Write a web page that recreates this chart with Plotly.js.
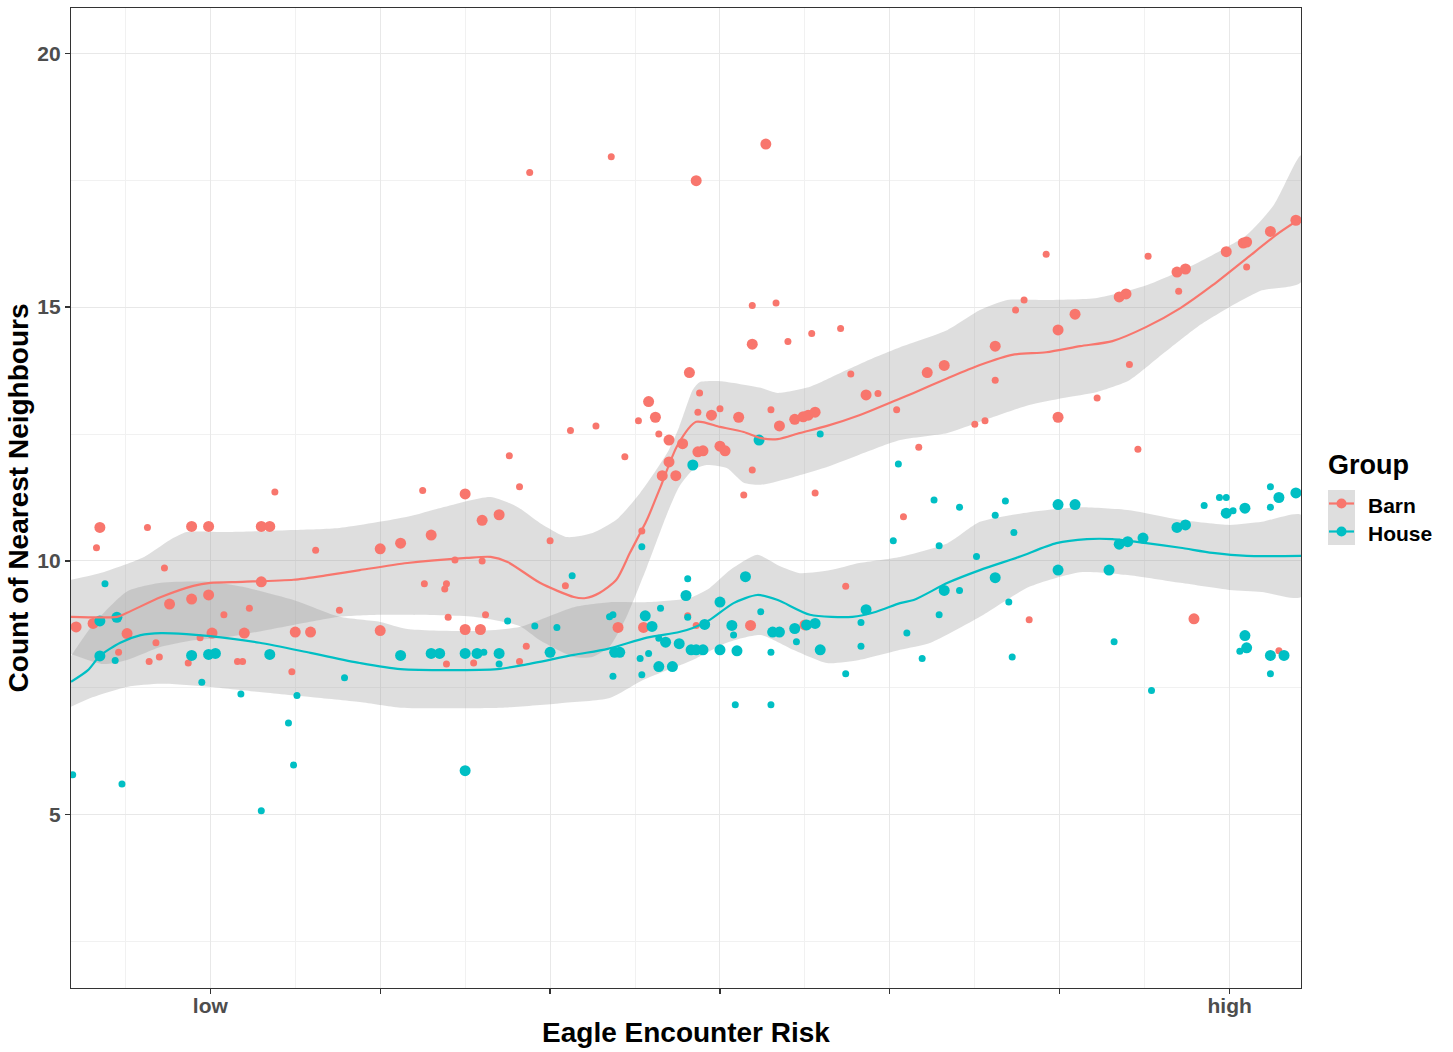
<!DOCTYPE html>
<html>
<head>
<meta charset="utf-8">
<script src="https://cdn.plot.ly/plotly-3.0.1.min.js"></script>
<style>
  html, body { margin: 0; padding: 0; background: #ffffff; }
  #chart { width: 1453px; height: 1052px; }
</style>
</head>
<body>
<div id="chart"></div>
<script>
// ---- Observations: risk score (x), neighbour count (y), weight class (1 = small, 2 = large) ----
const barnX = [-0.79,-0.69,-0.65,-0.67,-0.37,-0.11,-0.01,0.30,0.35,0.38,-0.27,0.62,0.30,-0.24,-0.11,-0.01,0.08,0.23,0.76,-0.49,0.01,0.20,0.50,0.59,-0.32,-0.54,-0.06,-0.36,-0.30,-0.13,0.16,0.19,0.48,
  1.76,1.82,1.25,1.50,1.60,1.70,1.30,1.12,1.00,2.00,1.44,1.60,1.26,1.39,1.38,2.09,1.40,1.62,1.00,1.50,1.59,1.86,1.39,1.55,1.82,2.40,2.55,2.54,2.12,2.27,2.70,2.70,2.66,2.74,2.64,2.52,
  3.19,3.33,3.19,3.40,3.54,3.71,2.82,2.58,2.62,2.44,2.78,2.88,2.87,3.00,2.95,3.11,3.30,3.35,3.44,3.49,3.52,3.56,3.77,3.86,3.93,4.04,2.87,2.90,3.00,3.03,3.19,3.14,3.56,3.74,2.81,2.86,3.18,3.50,
  4.92,5.52,4.79,4.74,5.09,4.99,4.62,4.32,4.22,4.62,5.41,5.22,4.50,4.56,4.17,4.99,5.46,5.35,5.39,5.69,5.74,5.70,5.98,6.08,6.10,6.10,6.24,6.39,4.08,4.82,5.79,6.29,1.88,2.36,2.86,3.27];
const barnY = [8.70,8.77,10.66,10.26,10.66,10.68,10.68,10.68,10.68,11.36,9.86,10.21,9.59,9.15,9.25,9.33,8.94,9.07,9.03,8.57,8.58,8.58,8.60,8.60,8.39,8.20,8.49,8.02,8.11,7.99,8.02,8.02,7.82,
  12.07,11.46,11.39,11.32,10.80,10.91,10.51,10.35,10.24,10.40,10.02,10.00,9.55,9.55,9.45,9.51,8.89,8.94,8.63,8.65,8.65,8.32,7.97,7.99,8.02,8.69,8.69,10.59,12.57,12.66,12.38,11.95,11.68,11.68,12.50,12.76,
  15.03,15.08,14.27,14.32,14.48,14.58,13.71,13.14,12.83,12.05,12.31,13.31,12.93,13.00,12.87,12.83,12.98,12.66,12.79,12.84,12.87,12.93,13.68,13.27,13.30,12.98,12.15,12.17,12.26,12.17,11.79,11.30,11.34,9.50,8.92,8.73,8.73,8.74,
  16.04,16.00,15.14,14.94,14.86,14.55,14.23,13.85,13.71,13.56,13.87,13.21,12.69,12.76,12.24,12.83,12.20,15.20,15.26,15.69,15.75,15.31,16.09,16.26,16.28,15.79,16.49,16.71,10.87,8.84,8.86,8.23,17.65,17.96,17.49,18.21];
const barnWeight = [2,2,2,1,1,2,2,2,2,1,1,1,2,2,2,2,1,1,1,2,2,2,2,2,1,1,1,1,1,1,1,1,1,
  1,1,1,2,2,2,2,2,2,1,1,1,1,1,1,1,1,1,2,2,2,1,1,1,1,2,2,1,1,1,2,2,2,2,1,1,
  1,1,2,1,1,1,2,2,2,1,2,1,1,1,2,2,1,2,2,2,2,2,1,2,1,1,2,2,2,2,1,1,1,1,1,1,2,2,
  1,1,1,1,2,2,2,2,2,1,1,1,1,1,1,2,1,2,2,2,2,1,2,2,2,1,2,2,1,1,2,1,1,1,2,2];

const houseX = [-0.62,-0.65,-0.55,-0.65,-0.56,-0.11,-0.01,0.03,0.35,-0.05,0.18,0.51,0.79,0.46,0.49,-0.52,-0.81,0.30,
  1.12,1.30,1.35,1.50,1.57,1.61,1.70,1.70,2.00,1.75,1.91,2.04,2.13,2.54,1.50,2.35,2.37,2.56,2.60,2.65,2.38,2.41,2.37,2.53,2.58,2.54,2.64,2.72,2.64,2.68,
  2.76,2.80,2.81,2.81,2.91,3.00,3.15,3.24,3.07,3.08,2.83,2.86,2.90,3.00,3.10,3.31,3.35,3.30,3.44,3.51,3.56,3.45,3.59,3.09,3.30,3.74,3.83,3.83,3.86,3.59,4.05,4.02,3.23,2.84,
  4.26,4.41,4.68,4.29,4.62,4.73,4.51,4.99,5.09,4.62,4.32,4.41,4.70,4.29,4.10,4.19,4.72,4.99,5.29,5.32,5.35,5.40,5.49,5.69,5.74,5.85,5.94,5.98,5.98,6.02,
  6.09,6.24,6.24,6.29,6.39,6.09,6.10,6.06,6.24,6.32,6.24,5.54];
const houseY = [9.55,8.82,8.89,8.13,8.04,8.14,8.16,8.18,8.16,7.61,7.38,7.35,7.70,6.81,5.98,5.61,5.79,5.08,
  8.14,8.18,8.18,8.18,8.18,8.20,8.18,7.97,8.20,8.82,8.72,8.69,9.71,10.28,5.87,8.90,8.94,8.92,8.71,9.07,8.20,8.20,7.73,8.08,8.18,7.76,7.92,7.92,8.48,8.40,
  8.37,9.32,9.65,8.89,8.75,9.19,9.69,9.00,8.73,8.54,8.25,8.25,8.25,8.25,8.23,8.60,8.60,8.20,8.67,8.74,8.77,8.41,8.25,7.17,7.17,7.78,8.79,8.32,9.04,12.50,11.91,10.40,12.38,11.89,
  11.20,11.06,11.18,10.30,10.90,10.56,10.09,11.11,11.11,9.67,9.42,9.42,9.19,8.94,8.58,8.08,8.11,9.82,9.82,8.41,10.33,10.38,10.45,10.66,10.71,11.09,11.25,11.25,10.94,10.99,
  11.04,11.46,11.06,11.25,11.34,8.53,8.29,8.22,8.14,8.14,7.78,7.45];
const houseWeight = [1,2,2,2,1,2,2,2,2,1,1,1,1,1,1,1,1,1,
  2,2,2,2,2,1,2,1,2,1,1,1,1,1,2,1,1,2,2,1,2,2,1,1,1,1,2,2,1,2,
  2,2,1,1,2,2,2,1,2,1,2,2,2,2,2,2,2,1,2,2,2,1,2,1,1,1,1,1,2,1,1,1,2,2,
  1,1,1,1,1,1,1,2,2,2,2,1,1,1,1,1,1,2,2,1,2,2,2,2,2,1,1,1,2,1,
  2,1,1,2,2,2,2,1,2,2,1,1];

// ---- Smoothed trends with confidence limits ----
const barnFitX = [-0.82,-0.55,-0.49,-0.29,-0.10,0.00,0.19,0.49,0.69,0.88,1.16,1.51,1.65,1.75,1.94,2.14,2.21,2.29,2.39,2.47,2.57,2.65,2.75,2.86,3.00,3.14,3.24,3.34,3.47,3.63,3.82,4.04,4.14,4.34,4.53,4.72,4.92,5.12,5.31,5.51,5.71,5.90,6.10,6.29,6.42];
const barnFitY = [8.90,8.90,8.98,9.29,9.51,9.57,9.59,9.63,9.72,9.82,9.96,10.06,10.08,9.98,9.57,9.29,9.27,9.37,9.63,10.16,10.81,11.46,12.28,12.74,12.64,12.54,12.42,12.40,12.52,12.66,12.87,13.17,13.31,13.60,13.86,14.06,14.11,14.23,14.33,14.61,14.98,15.43,15.96,16.46,16.75];
const barnUpperX = [-0.82,-0.63,-0.39,-0.24,-0.14,0.10,0.49,0.76,1.16,1.35,1.65,1.81,1.94,2.10,2.25,2.39,2.53,2.69,2.76,2.84,2.88,3.00,3.24,3.34,3.53,3.72,3.92,4.06,4.34,4.53,4.69,4.92,5.22,5.51,5.81,6.10,6.26,6.42];
const barnUpperY = [9.63,9.78,10.08,10.41,10.57,10.57,10.61,10.65,10.87,11.04,11.26,11.06,10.75,10.47,10.55,10.81,11.34,12.13,12.64,13.37,13.52,13.54,13.41,13.31,13.43,13.72,14.02,14.21,14.55,14.94,15.14,15.14,15.18,15.43,15.87,16.42,17.01,17.99];
const barnLowerX = [-0.82,-0.63,-0.49,-0.29,-0.10,0.10,0.49,0.76,1.00,1.16,1.55,1.82,1.94,2.14,2.25,2.35,2.45,2.57,2.69,2.76,2.84,2.92,3.04,3.14,3.24,3.43,3.63,3.82,4.06,4.34,4.53,4.82,5.02,5.22,5.41,5.61,5.81,6.00,6.19,6.42];
const barnLowerY = [8.17,7.97,8.05,8.31,8.44,8.50,8.74,8.90,8.94,8.94,8.90,8.72,8.44,8.11,8.11,8.31,8.90,9.88,10.94,11.46,11.79,11.89,11.83,11.54,11.50,11.65,11.85,12.09,12.38,12.52,12.74,13.07,13.21,13.33,13.56,14.09,14.61,15.00,15.33,15.49];

const houseFitX = [-0.82,-0.72,-0.65,-0.53,-0.41,-0.29,-0.14,0.00,0.29,0.59,0.88,1.12,1.69,1.84,2.14,2.34,2.57,2.76,2.84,2.94,3.08,3.22,3.34,3.53,3.78,3.92,4.06,4.14,4.34,4.53,4.76,4.98,5.16,5.31,5.51,5.71,5.90,6.10,6.42];
const houseFitY = [7.62,7.85,8.13,8.39,8.54,8.58,8.56,8.52,8.39,8.19,7.99,7.87,7.87,7.95,8.15,8.27,8.49,8.60,8.68,8.84,9.17,9.33,9.23,8.94,8.90,9.00,9.17,9.23,9.57,9.82,10.08,10.35,10.43,10.43,10.35,10.26,10.16,10.10,10.10];
const houseUpperX = [-0.82,-0.69,-0.49,-0.29,0.00,0.19,0.49,0.76,1.00,1.16,1.55,1.82,2.14,2.37,2.59,2.82,2.94,3.06,3.22,3.35,3.47,3.65,3.82,4.06,4.34,4.53,4.82,5.12,5.41,5.71,6.00,6.19,6.42];
const houseUpperY = [8.13,8.75,9.40,9.57,9.59,9.49,9.23,8.90,8.80,8.66,8.62,8.70,9.09,9.19,9.19,9.27,9.47,9.82,10.12,9.90,9.76,9.82,9.96,10.08,10.35,10.77,10.96,11.06,11.00,10.81,10.71,10.77,10.91];
const houseLowerX = [-0.82,-0.69,-0.49,-0.29,0.00,0.29,0.59,0.88,1.12,1.71,2.06,2.35,2.55,2.84,3.04,3.24,3.43,3.63,3.82,4.06,4.24,4.53,4.82,5.12,5.41,5.71,6.00,6.19,6.42];
const houseLowerY = [7.13,7.32,7.52,7.58,7.52,7.42,7.32,7.22,7.11,7.11,7.20,7.30,7.66,8.05,8.39,8.54,8.25,7.99,8.05,8.25,8.39,8.90,9.49,9.78,9.72,9.57,9.43,9.39,9.29];

// ---- Axis labelling ----
const riskTicks = [0, 1, 2, 3, 4, 5, 6];
const riskLabels = ['low', '', '', '', '', '', 'high'];
const groupNames = ['Barn', 'House'];

// ---- Styling ----
const FONT = 'Liberation Sans, Arial, Helvetica, sans-serif';
const colors = { Barn: '#F8766D', House: '#00BFC4' };
const bandFill = 'rgba(153,153,153,0.32)';
const pointSize = w => (w === 2 ? 11 : 7);

function band(upX, upY, loX, loY) {
  return {
    type: 'scatter', mode: 'lines',
    x: upX.concat(loX.slice().reverse()),
    y: upY.concat(loY.slice().reverse()),
    fill: 'toself', fillcolor: bandFill,
    line: { width: 0, shape: 'spline', smoothing: 0.6 },
    hoverinfo: 'skip', showlegend: false
  };
}

function points(xs, ys, ws, name) {
  return {
    type: 'scatter', mode: 'markers', name: name,
    x: xs, y: ys,
    marker: { color: colors[name], size: ws.map(pointSize), opacity: 1, line: { width: 0 } },
    showlegend: false
  };
}

function fit(xs, ys, name) {
  return {
    type: 'scatter', mode: 'lines', name: name,
    x: xs, y: ys,
    line: { color: colors[name], width: 2.2, shape: 'spline', smoothing: 0.7 },
    showlegend: false
  };
}

const data = [
  band(barnUpperX, barnUpperY, barnLowerX, barnLowerY),
  band(houseUpperX, houseUpperY, houseLowerX, houseLowerY),
  points(barnX, barnY, barnWeight, 'Barn'),
  points(houseX, houseY, houseWeight, 'House'),
  fit(barnFitX, barnFitY, 'Barn'),
  fit(houseFitX, houseFitY, 'House')
];

// ---- Legend (key boxes with line + point glyphs), placed in paper units ----
const PLOT_L = 71, PLOT_W = 1230, PLOT_B = 988, PLOT_H = 980;
const px2x = px => (px - PLOT_L) / PLOT_W;
const px2y = py => (PLOT_B - py) / PLOT_H;

const legendShapes = [];
const legendNotes = [{
  text: 'Group', xref: 'paper', yref: 'paper', x: px2x(1326), y: px2y(465),
  xanchor: 'left', yanchor: 'middle', showarrow: false,
  font: { family: FONT, size: 27, color: '#000000', weight: 'bold' }
}];
legendShapes.push({
  type: 'rect', xref: 'paper', yref: 'paper',
  x0: px2x(1328), x1: px2x(1355), y0: px2y(545), y1: px2y(490),
  fillcolor: '#DEDEDE', line: { width: 0 }
});
groupNames.forEach((g, i) => {
  const cy = 503.5 + i * 28;
  legendShapes.push({
    type: 'line', xref: 'paper', yref: 'paper',
    x0: px2x(1329), x1: px2x(1354), y0: px2y(cy), y1: px2y(cy),
    line: { color: colors[g], width: 2.2 }
  });
  legendShapes.push({
    type: 'circle', xref: 'paper', yref: 'paper',
    xsizemode: 'pixel', ysizemode: 'pixel',
    xanchor: px2x(1341.5), yanchor: px2y(cy),
    x0: -5, x1: 5, y0: -5, y1: 5,
    fillcolor: colors[g], line: { width: 0 }
  });
  legendNotes.push({
    text: g, xref: 'paper', yref: 'paper', x: px2x(1366), y: px2y(cy + 1.5),
    xanchor: 'left', yanchor: 'middle', showarrow: false,
    font: { family: FONT, size: 21, color: '#000000', weight: 'bold' }
  });
});

const axisCommon = {
  showline: true, mirror: true, linecolor: '#333333', linewidth: 1.2,
  showgrid: true, gridcolor: '#E8E8E8', gridwidth: 1,
  zeroline: false,
  ticks: 'outside', ticklen: 5, tickwidth: 1.2, tickcolor: '#333333',
  tickfont: { family: FONT, size: 21, color: '#4D4D4D', weight: 'bold' },
  automargin: false
};

const layout = {
  width: 1453, height: 1052,
  margin: { l: 71, r: 152, t: 8, b: 64 },
  paper_bgcolor: '#ffffff', plot_bgcolor: '#ffffff',
  font: { family: FONT, color: '#000000' },
  xaxis: Object.assign({}, axisCommon, {
    range: [-0.82, 6.42],
    tickmode: 'array', tickvals: riskTicks, ticktext: riskLabels,
    ticklabelstandoff: -6,
    minor: { tickmode: 'linear', tick0: -0.5, dtick: 1, showgrid: true, gridcolor: '#F1F1F1', gridwidth: 1, ticks: '' },
    title: { text: 'Eagle Encounter Risk', font: { family: FONT, size: 28, color: '#000000', weight: 'bold' }, standoff: 6 }
  }),
  yaxis: Object.assign({}, axisCommon, {
    range: [1.59, 20.89],
    tickmode: 'linear', tick0: 0, dtick: 5,
    minor: { tickmode: 'linear', tick0: 2.5, dtick: 5, showgrid: true, gridcolor: '#F1F1F1', gridwidth: 1, ticks: '' },
    title: { text: 'Count of Nearest Neighbours', font: { family: FONT, size: 28, color: '#000000', weight: 'bold' }, standoff: 0 }
  }),
  shapes: legendShapes,
  annotations: legendNotes,
  showlegend: false
};

Plotly.newPlot('chart', data, layout, { staticPlot: true, displayModeBar: false });
</script>
</body>
</html>
